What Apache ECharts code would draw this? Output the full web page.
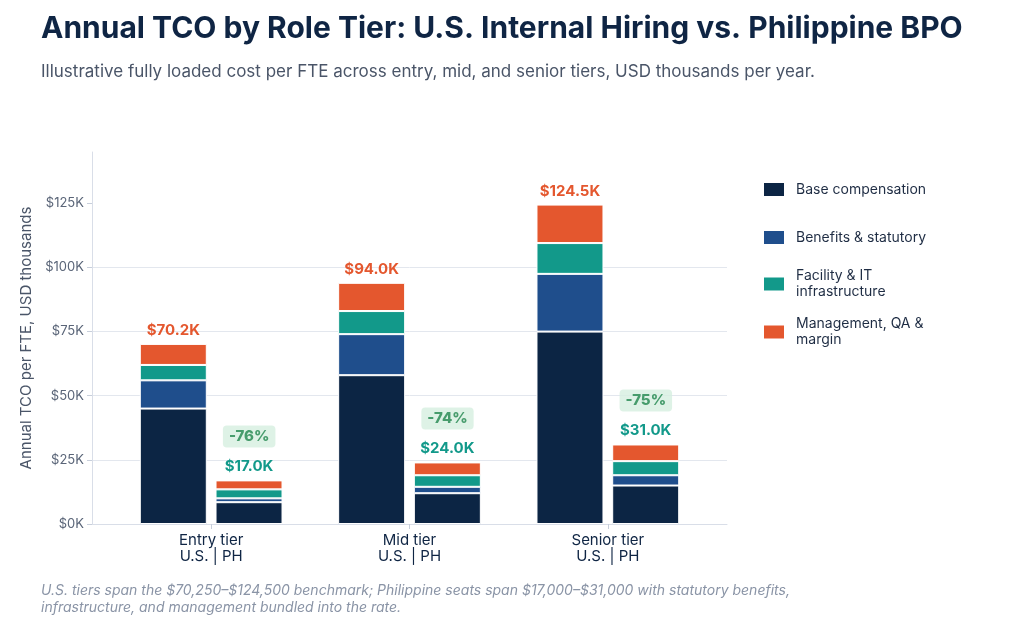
<!DOCTYPE html>
<html>
<head>
<meta charset="utf-8">
<script src="https://cdn.jsdelivr.net/npm/echarts@6/dist/echarts.min.js"></script>
<style>
  html, body { margin: 0; padding: 0; background: #fff; }
  #chart { width: 1024px; height: 632px; }
</style>
</head>
<body>
<div id="chart"></div>
<script>
// 数据
var tiers = ['Entry tier', 'Mid tier', 'Senior tier'];
var components = ['Base compensation', 'Benefits & statutory', 'Facility & IT infrastructure', 'Management, QA & margin'];
var legendLabels = ['Base compensation', 'Benefits & statutory', 'Facility & IT\ninfrastructure', 'Management, QA &\nmargin'];
var yTicks = [0, 25, 50, 75, 100, 125];

// USD thousands per FTE
var usBase = [45, 58, 75];
var usBenefits = [11, 16, 22.5];
var usFacility = [6, 9, 12];
var usMgmt = [8.2, 11, 15];

var phBase = [8.5, 12, 15];
var phBenefits = [1.5, 2.5, 4];
var phFacility = [3.5, 4.5, 5.5];
var phMgmt = [3.5, 5, 6.5];

var colors = ['#0c2544', '#1f4e8c', '#12998a', '#e4572e'];
var font = 'Inter';

var usParts = [usBase, usBenefits, usFacility, usMgmt];
var phParts = [phBase, phBenefits, phFacility, phMgmt];

function totals(parts) {
    return tiers.map(function (t, i) {
        return parts.reduce(function (s, p) { return s + p[i]; }, 0);
    });
}
var usTotals = totals(usParts);
var phTotals = totals(phParts);
var savings = tiers.map(function (t, i) {
    return '-' + Math.round((1 - phTotals[i] / usTotals[i]) * 100) + '%';
});

var myChart = echarts.init(document.getElementById('chart'));

var series = [];
function addStack(parts, stack, tot, labelColor) {
    parts.forEach(function (p, c) {
        var s = {
            name: components[c],
            type: 'bar',
            stack: stack,
            xAxisIndex: 1,
            yAxisIndex: 1,
            barWidth: 67,
            barGap: '13%',
            itemStyle: { color: colors[c], borderColor: '#ffffff', borderWidth: 1 },
            emphasis: { disabled: true },
            data: p
        };
        if (c === parts.length - 1) {  // 顶部总计标签
            s.label = {
                show: true,
                position: 'top',
                distance: 6,
                color: labelColor,
                fontFamily: font,
                fontWeight: 'bold',
                fontSize: 15,
                formatter: function (d) { return '$' + tot[d.dataIndex].toFixed(1) + 'K'; }
            };
        }
        series.push(s);
    });
}
addStack(usParts, 'us', usTotals, '#e4572e');
addStack(phParts, 'ph', phTotals, '#12998a');

// 节省比例徽标
series.push({
    type: 'scatter',
    xAxisIndex: 1,
    yAxisIndex: 1,
    symbolSize: 0,
    silent: true,
    z: 5,
    label: {
        show: true,
        position: 'inside',
        offset: [38, -44],
        color: '#21864e',
        backgroundColor: '#d6efe0',
        borderRadius: 4,
        padding: [4, 6, 3, 6],
        fontFamily: font,
        fontWeight: 800,
        fontSize: 15,
        formatter: function (d) { return savings[d.dataIndex]; }
    },
    data: phTotals.map(function (v, i) { return [i, v]; })
});

var legendTops = [181, 229, 268, 316];
var legends = components.map(function (name, i) {
    return {
        data: [name],
        orient: 'vertical',
        left: 762,
        top: legendTops[i],
        padding: 0,
        icon: 'rect',
        itemWidth: 22,
        itemHeight: 15,
        selectedMode: false,
        formatter: function () { return legendLabels[i]; },
        textStyle: { fontFamily: font, fontSize: 14, lineHeight: 16, color: '#1f2d44', padding: [0, 0, 0, 6] }
    };
});

option = {
    backgroundColor: '#ffffff',
    animation: false,
    title: [
        {
            text: 'Annual TCO by Role Tier: U.S. Internal Hiring vs. Philippine BPO',
            left: 36, top: 9,
            textStyle: { fontFamily: font, fontSize: 30, fontWeight: 'bold', color: '#0f2544' }
        },
        {
            text: 'Illustrative fully loaded cost per FTE across entry, mid, and senior tiers, USD thousands per year.',
            left: 36, top: 58,
            textStyle: { fontFamily: font, fontSize: 17, fontWeight: 'normal', color: '#4a5568' }
        },
        {
            text: 'U.S. tiers span the $70,250\u2013$124,500 benchmark; Philippine seats span $17,000\u2013$31,000 with statutory benefits,\ninfrastructure, and management bundled into the rate.',
            left: 36, top: 577,
            textStyle: { fontFamily: font, fontSize: 14, fontWeight: 'normal', fontStyle: 'italic', color: '#8a94a6', lineHeight: 17 }
        }
    ],
    legend: legends,
    grid: [
        { left: 92, right: 297, top: 152, bottom: 108 },  // 坐标系外框
        { left: 112, right: 317, top: 152, bottom: 108 }  // 柱子
    ],
    xAxis: [
        {
            type: 'value', gridIndex: 0, min: 0, max: 1,
            axisLine: { show: true, lineStyle: { color: '#d9dee8' } },
            axisTick: { show: false }, axisLabel: { show: false }, splitLine: { show: false }
        },
        {
            type: 'category', gridIndex: 1, data: tiers,
            axisLine: { show: false },
            axisTick: { show: true, alignWithLabel: true, length: 5, lineStyle: { color: '#c8cfdb' } },
            axisLabel: {
                margin: 8,
                fontFamily: font, fontSize: 15, lineHeight: 16, color: '#0f2544',
                formatter: function (v) { return v + '\nU.S. | PH'; }
            }
        }
    ],
    yAxis: [
        {
            type: 'value', gridIndex: 0, min: 0, max: 145, interval: 25,
            name: 'Annual TCO per FTE, USD thousands',
            nameLocation: 'middle',
            nameGap: 55,
            nameTextStyle: { fontFamily: font, fontSize: 15, color: '#4a5568' },
            axisLine: { show: true, lineStyle: { color: '#d9dee8' } },
            axisTick: { show: true, length: 5, customValues: yTicks, lineStyle: { color: '#c8cfdb' } },
            axisLabel: {
                customValues: yTicks,
                margin: 8, fontFamily: font, fontSize: 13, color: '#5a6578',
                formatter: function (v) { return '$' + v + 'K'; }
            },
            splitLine: { show: true, showMaxLine: false, lineStyle: { color: '#e3e7ee' } }
        },
        { type: 'value', gridIndex: 1, min: 0, max: 145, show: false, splitLine: { show: false } }
    ],
    series: series
};

myChart.setOption(option);
</script>
</body>
</html>
